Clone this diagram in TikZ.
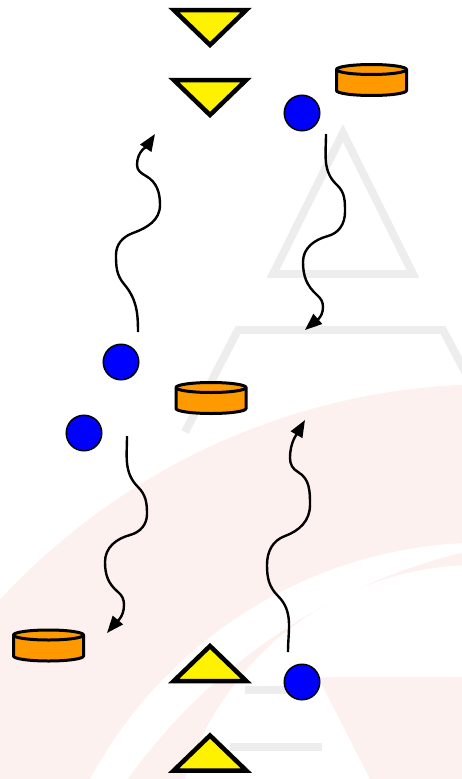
\documentclass[tikz,border=0pt]{standalone}
\usetikzlibrary{shapes.geometric,arrows.meta}

\definecolor{markPink}{RGB}{253,241,239}
\definecolor{markGray}{RGB}{237,237,237}
\definecolor{puckOrange}{RGB}{255,153,0}

\tikzset{
  ball/.style={circle, draw=black, line width=1.5pt, fill=blue,
    minimum size=35.5pt, inner sep=0pt},
  puckLine/.style={draw=black, line width=3pt},
  puck/.pic={
    \filldraw[puckLine, fill=puckOrange] (-35,10.5) -- (-35,-10.5)
      arc[start angle=180, end angle=360, x radius=35, y radius=5]
      -- (35,10.5)
      arc[start angle=0, end angle=180, x radius=35, y radius=5] -- cycle;
    \draw[puckLine] (-35,10.5)
      arc[start angle=180, end angle=360, x radius=35, y radius=5];
  },
  sinkFlag/.style={isosceles triangle, isosceles triangle stretches,
    shape border rotate=-90, draw=black, line width=4.5pt, fill=yellow,
    minimum width=72.5pt, minimum height=35pt, inner sep=0pt,
    outer sep=0pt, anchor=apex},
  sourceFlag/.style={sinkFlag, shape border rotate=90},
  wiggleArrow/.style={draw=black, line width=2.4pt,
    arrows={-Triangle[length=17pt,width=13pt]}},
  markLine/.style={draw=markGray, line width=8pt}
}

\begin{document}
\begin{tikzpicture}[x=1pt,y=1pt]
  \useasboundingbox (0,0) rectangle (462,-779);

  % faint logo in the background
  \begin{scope}
    \clip (0,0) rectangle (462,-779);
    \fill[markPink] (494,-1058) circle[radius=674pt];
    \fill[white] (486,-992) circle[radius=449.5pt];
    \fill[markPink] (601,-1118) circle[radius=582pt];
    \fill[white] (477,-871) circle[radius=306pt];
    \fill[markPink] (318,-677) -- (462,-677) -- (462,-779) -- (370,-779) -- cycle;
    \draw[markLine] (343,-133) -- (273,-274) -- (413,-274) -- cycle;
    \draw[markLine] (185,-432) -- (238,-330) -- (443,-330) -- (480,-400);
    \draw[markLine] (245,-690) -- (300,-690);
    \draw[markLine] (230,-747) -- (322,-747);
  \end{scope}

  \node[sinkFlag] (sinkTop) at (210,-45) {};
  \node[sinkFlag] (sinkLower) at (210,-115) {};
  \node[sourceFlag] (sourceUpper) at (210,-646) {};
  \node[sourceFlag] (sourceBottom) at (210,-735.5) {};

  \pic (puckTop) at (371.5,-80) {puck};
  \pic (puckMid) at (211,-398) {puck};
  \pic (puckBottom) at (48.5,-645.5) {puck};

  \node[ball] (ballTopRight) at (302,-113) {};
  \node[ball] (ballMidUpper) at (121,-362) {};
  \node[ball] (ballMidLower) at (84,-433) {};
  \node[ball] (ballBottomRight) at (302,-682) {};

  \coordinate (upLeftFrom) at (138,-332);
  \coordinate (upLeftTo) at (155,-134);
  \coordinate (downRightFrom) at (326,-134);
  \coordinate (downRightTo) at (305,-330);
  \coordinate (downLeftFrom) at (127,-436);
  \coordinate (downLeftTo) at (107,-633);
  \coordinate (upRightFrom) at (288,-652);
  \coordinate (upRightTo) at (305,-420);

  \draw[wiggleArrow] (upLeftFrom) to[out=90,in=-50] (124,-284)
    to[out=130,in=-90] (116,-255) to[out=90,in=200] (133,-233)
    to[out=20,in=-90] (160,-205) to[out=90,in=-30] (146,-176)
    to[out=150,in=-90] (137,-165) to[out=90,in=237] (upLeftTo);
  \draw[wiggleArrow] (downRightFrom) to[out=-90,in=137] (337,-185)
    to[out=-43,in=90] (345,-212) to[out=-90,in=15] (328,-236)
    to[out=195,in=90] (303,-262) to[out=-90,in=138] (317,-295)
    to[out=-42,in=90] (323,-307) to[out=-90,in=41] (downRightTo);
  \draw[wiggleArrow] (downLeftFrom) to[out=-90,in=135] (138,-487)
    to[out=-45,in=90] (147,-514) to[out=-90,in=15] (130,-535)
    to[out=195,in=90] (105,-562) to[out=-90,in=140] (118,-592)
    to[out=-40,in=90] (124,-605) to[out=-90,in=50] (downLeftTo);
  \draw[wiggleArrow] (upRightFrom) to[out=90,in=-45] (278,-596)
    to[out=135,in=-90] (267,-565) to[out=90,in=200] (285,-536)
    to[out=20,in=-90] (310,-505) to[out=90,in=-30] (298,-472)
    to[out=150,in=-90] (290,-458) to[out=90,in=240] (upRightTo);
\end{tikzpicture}
\end{document}
